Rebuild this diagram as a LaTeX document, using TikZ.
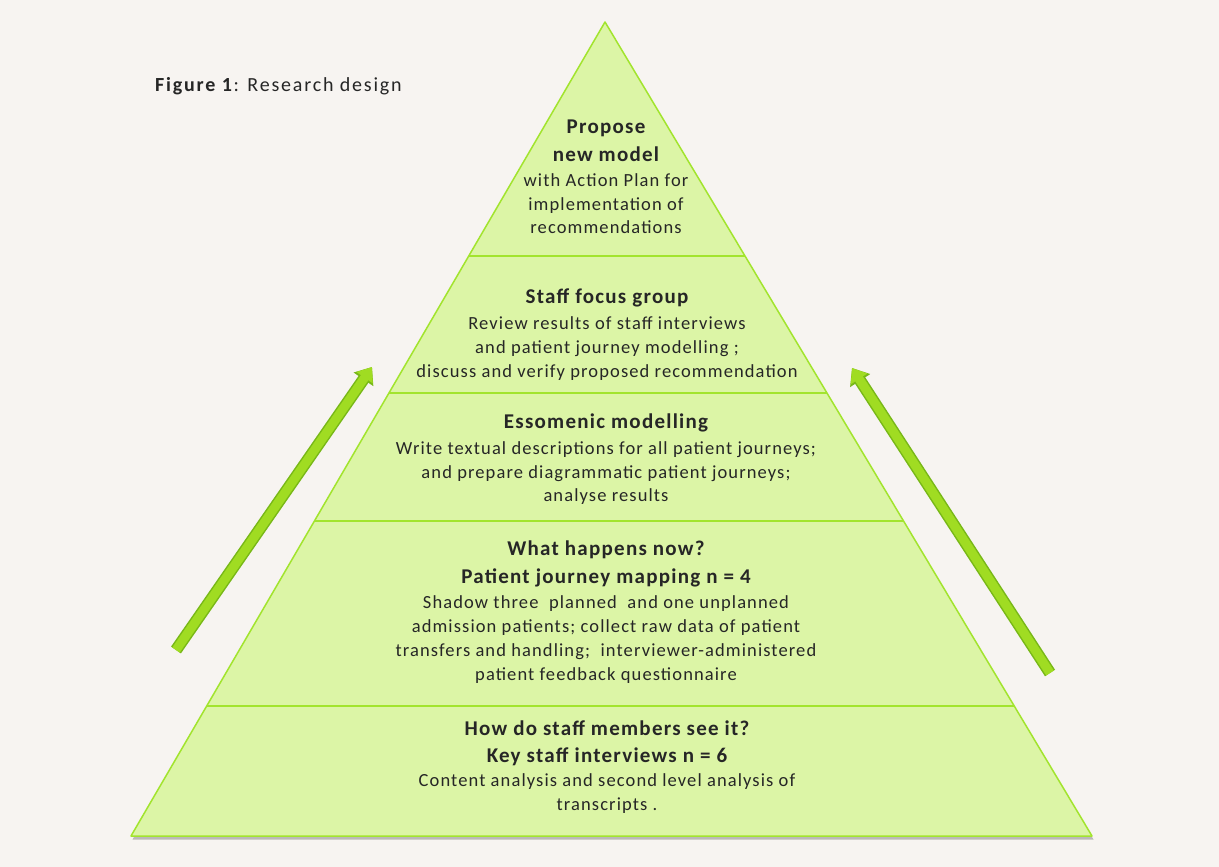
\documentclass[tikz,border=0pt]{standalone}
\usepackage{fontspec}
\setmainfont{Carlito}[LetterSpace=6]
\newfontfamily\capfont{Carlito}[LetterSpace=9]
\usetikzlibrary{arrows.meta,shadows,calc}
\definecolor{paper}{HTML}{F7F4F1}
\definecolor{layerfill}{HTML}{DCF5A6}
\definecolor{layeredge}{HTML}{A2E42E}
\definecolor{arrowfill}{HTML}{A0DC22}
\definecolor{arrowedge}{HTML}{78B817}
\newcommand\headsize{\fontsize{21}{27}\selectfont\bfseries}
\newcommand\bodysize{\fontsize{18.5}{23.8}\selectfont}
\tikzset{
    layertxt/.style={align=center, inner sep=0pt, text=black!85, font=\bodysize},
    bigarrow/.style={draw=arrowfill, line width=9pt, -{Triangle[length=13pt,width=19pt]},
      preaction={draw=arrowedge, line width=12pt, -{Triangle[length=15pt,width=23pt]}}},
  }

\begin{document}
\begin{tikzpicture}[x=1pt,y=-1pt]
	%fond
	\fill[paper] (0,0) rectangle (1219,867);

	%PYRAMIDE
	\coordinate (top) at (605,22);
	\coordinate (bl) at (131,836);
	\coordinate (br) at (1092,836);
	\filldraw[fill=layerfill, draw=layeredge, line width=1.5pt, line join=round,
	  drop shadow={shadow xshift=1.5pt, shadow yshift=-3.5pt, opacity=0.45, fill=black!55}]
	  (top) -- (br) -- (bl) -- cycle;

	%niveaux
	\foreach \y in {256,393,521,706}
	  \draw[layeredge, line width=1.5pt] ($(top)!{(\y-22)/814}!(bl)$) -- ($(top)!{(\y-22)/814}!(br)$);

	%textes
	\node[anchor=west, inner sep=0pt, font=\capfont\fontsize{20}{23}\selectfont, text=black!85] (caption) at (155,86) {\textbf{Figure 1}: Research design};
	\node[layertxt] (propose) at (606,177) {\headsize Propose\\[4pt] \headsize new model\\[1pt] with Action Plan for\\ implementation of\\ recommendations};
	\node[layertxt] (focus) at (607,334.5) {\headsize Staff focus group\\[2pt] Review results of staff interviews\\ and patient journey modelling ;\\ discuss and verify proposed recommendation};
	\node[layertxt] (essomenic) at (606,459.5) {\headsize Essomenic modelling\\[1.5pt] Write textual descriptions for all patient journeys;\\ and prepare diagrammatic patient journeys;\\ analyse results};
	\node[layertxt] (mapping) at (606,612) {\headsize What happens now?\\[4pt] \headsize Patient journey mapping n = 4\\[2pt] Shadow three~ planned~ and one unplanned\\ admission patients; collect raw data of patient\\ transfers and handling;~ interviewer-administered\\ patient feedback questionnaire};
	\node[layertxt] (interviews) at (607,767) {\headsize How do staff members see it?\\[4pt] \headsize Key staff interviews n = 6\\ Content analysis and second level analysis of\\ transcripts .};

	%fleches
	\coordinate (lfoot) at (176,650);
	\coordinate (lhead) at (372,367);
	\coordinate (rfoot) at (1050,673);
	\coordinate (rhead) at (852,368);
	\draw[bigarrow] (lfoot) -- (lhead);
	\draw[bigarrow] (rfoot) -- (rhead);
\end{tikzpicture}
\end{document}
